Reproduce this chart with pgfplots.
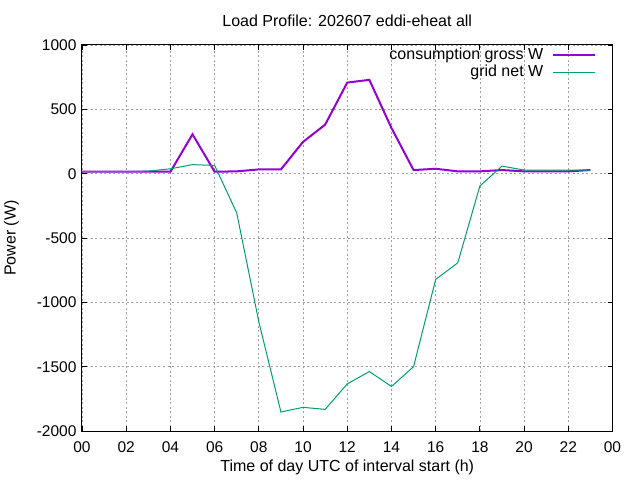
\documentclass[border=0pt]{standalone}
\usepackage{pgfplots}
\pgfplotsset{compat=1.18}
\usepackage{fontspec}
\setmainfont{Liberation Sans}
\definecolor{gpviolet}{RGB}{148,0,211}
\definecolor{gpgreen}{RGB}{0,158,115}
\definecolor{gridgray}{RGB}{160,160,160}
\begin{document}
\fontsize{16pt}{19pt}\selectfont
\begin{tikzpicture}[x=1pt,y=1pt]
\useasboundingbox (0,0) rectangle (640,480);
\begin{axis}[
  at={(82pt,49pt)}, anchor=south west,
  scale only axis, width=530.5pt, height=386pt,
  xmin=0, xmax=24, ymin=-2000, ymax=1000,
  xtick={0,2,...,24},
  xticklabels={00,02,04,06,08,10,12,14,16,18,20,22,00},
  ytick={-2000,-1500,...,1000},
  /pgf/number format/assume math mode=true,
  /pgf/number format/1000 sep={},
  ticklabel style={font=\fontsize{15.5pt}{18pt}\selectfont},
  xticklabel style={yshift=-5pt},
  label style={font=\fontsize{16pt}{19pt}\selectfont},
  xlabel style={at={(0.5,0)}, anchor=center, yshift=-36pt},
  ylabel shift=7pt,
  tick align=inside, tick pos=both,
  major tick length=5pt,
  axis line style={line width=1pt},
  tick style={line width=0.8pt, black},
  grid=major,
  major grid style={gridgray, line width=0.7pt, dash pattern=on 2pt off 2.5pt},
  xlabel={Time of day UTC of interval start (h)},
  ylabel={Power (W)},
  title={Load Profile: 202607 eddi-eheat all},
  title style={font=\fontsize{16pt}{19pt}\selectfont, at={(0.5,1)}, anchor=center, yshift=18pt},
  legend plot pos=right,
  legend cell align=right,
  legend style={draw=none, fill=none, at={(rel axis cs:1,1)}, anchor=north east,
    xshift=-16pt, yshift=-1pt, inner sep=0pt, row sep=-1pt,
    font=\fontsize{16pt}{19pt}\selectfont,
    /tikz/every odd column/.append style={column sep=7pt}},
  legend image code/.code={\draw[#1] (0pt,0pt) -- (42pt,0pt);},
]
\addplot[gpviolet, line width=2pt] coordinates {
(0,15) (1,15) (2,15) (3,15) (4,15) (5,306) (6,15) (7,18) (8,33) (9,33)
(10,247) (11,381) (12,708) (13,729) (14,355) (15,28) (16,38) (17,18)
(18,18) (19,28) (20,18) (21,18) (22,18) (23,28)};
\addlegendentry{consumption gross W}
\addplot[gpgreen, line width=1pt] coordinates {
(0,15) (1,15) (2,15) (3,20) (4,38) (5,70) (6,64) (7,-305) (8,-1152) (9,-1852)
(10,-1816) (11,-1832) (12,-1634) (13,-1538) (14,-1654) (15,-1500) (16,-822)
(17,-693) (18,-96) (19,59) (20,28) (21,28) (22,28) (23,28)};
\addlegendentry{grid net W}
\end{axis}
\end{tikzpicture}
\end{document}
